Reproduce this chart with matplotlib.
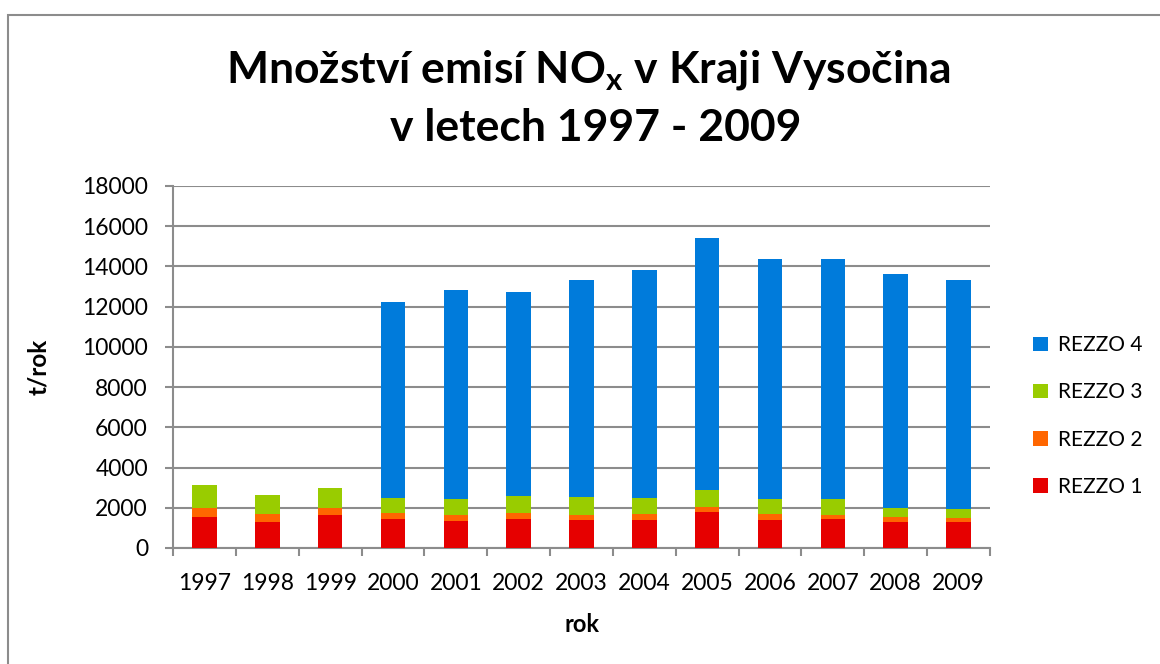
import matplotlib
matplotlib.use('Agg')
import matplotlib.pyplot as plt
from matplotlib.patches import Rectangle
import numpy as np

years = ['1997', '1998', '1999', '2000', '2001', '2002', '2003',
         '2004', '2005', '2006', '2007', '2008', '2009']
rezzo1 = [1550, 1300, 1640, 1455, 1355, 1455, 1390, 1390, 1800, 1405, 1455, 1305, 1305]
rezzo2 = [450, 400, 350, 280, 300, 280, 250, 280, 215, 265, 185, 250, 180]
rezzo3 = [1130, 930, 990, 730, 760, 860, 875, 795, 860, 760, 775, 445, 445]
rezzo4 = [0, 0, 0, 9785, 10425, 10130, 10800, 11375, 12560, 11950, 11945, 11600, 11405]
series_names = ['REZZO 1', 'REZZO 2', 'REZZO 3', 'REZZO 4']
colors = ['#E60000', '#FF6600', '#99CC00', '#007BDB']

plt.rcParams['font.family'] = ['Lato', 'DejaVu Sans']
grid_col = '#8C8C8C'

W, H = 1160, 664
fig = plt.figure(figsize=(W / 100, H / 100), dpi=100)
fig.patch.set_facecolor('white')

# chart frame (right/bottom edge lies outside the image)
fig.patches.append(Rectangle((8 / W, -0.1), 1.2, 1 - 15 / H + 0.1, transform=fig.transFigure,
                             fill=False, edgecolor='#8C8C8C', linewidth=1.5, zorder=0))

ax = fig.add_axes([173 / W, (H - 548) / H, (990 - 173) / W, (548 - 186) / H])

x = np.arange(len(years))
bottom = np.zeros(len(years))
handles = []
for vals, name, col in zip([rezzo1, rezzo2, rezzo3, rezzo4], series_names, colors):
    b = ax.bar(x, vals, 0.39, bottom=bottom, color=col, label=name, zorder=3)
    handles.append(b)
    bottom += np.array(vals)

ax.set_xlim(-0.5, len(years) - 0.5)
ax.set_ylim(0, 18000)
ax.set_yticks(np.arange(0, 18001, 2000))
ax.yaxis.grid(True, color=grid_col, linewidth=1.5, zorder=0)
ax.set_axisbelow(True)

ax.set_xticks(x)
ax.set_xticklabels(years)
ax.set_xticks(np.arange(-0.5, len(years)), minor=True)
ax.tick_params(axis='x', which='major', length=0, pad=18, labelsize=16.5)
ax.tick_params(axis='x', which='minor', length=6, width=1.5, color=grid_col, direction='out')
ax.tick_params(axis='y', length=6, width=1.5, color=grid_col, pad=12, labelsize=16.5)

for s in ['top', 'right']:
    ax.spines[s].set_visible(False)
for s in ['left', 'bottom']:
    ax.spines[s].set_color(grid_col)
    ax.spines[s].set_linewidth(1.5)

ax.set_ylabel('t/rok', fontsize=17.5, fontweight='bold')
ax.yaxis.set_label_coords((50 - 173) / (990 - 173), 0.5)
ax.set_xlabel('rok', fontsize=17, fontweight='bold')
ax.xaxis.set_label_coords(0.5, -(613 - 548) / (548 - 186))

fig.text(588 / W, 1 - 70 / H, r'Množství emisí NO$_\mathregular{x}$ v Kraji Vysočina',
         ha='center', va='center', fontsize=32, fontweight='bold')
fig.text(596 / W, 1 - 128 / H, 'v letech 1997 - 2009',
         ha='center', va='center', fontsize=32, fontweight='bold')

leg = fig.legend(handles[::-1], series_names[::-1], loc='upper left',
                 bbox_to_anchor=(1025 / W, 1 - 327 / H), frameon=False,
                 fontsize=15, handlelength=0.7, handleheight=0.7,
                 handletextpad=0.5, labelspacing=1.3, borderaxespad=0)

fig.savefig('out.png', dpi=100, facecolor='white')
